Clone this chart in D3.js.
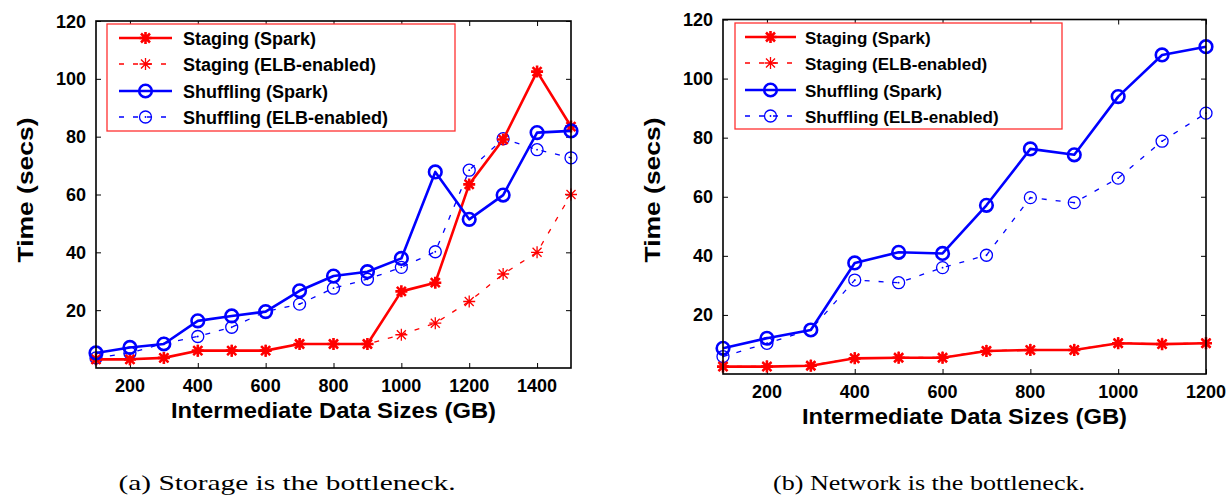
<!DOCTYPE html>
<html>
<head>
<meta charset="utf-8">
<script src="https://cdn.jsdelivr.net/npm/d3@7"></script>
<style>
  html, body { margin: 0; padding: 0; background: #fff; }
  svg { display: block; }
  text { font-family: "Liberation Sans", Arial, sans-serif; font-weight: bold; fill: #000; }
  .caption { font-family: "Liberation Serif", "Times New Roman", serif; font-weight: normal; }
</style>
</head>
<body>
<svg id="fig" width="1230" height="495"></svg>
<script>
// ---- Panel (a): storage-bound workload ----
const sizesA = [100, 200, 300, 400, 500, 600, 700, 800, 900, 1000, 1100, 1200, 1300, 1400, 1500];
const stagingSparkA   = [3, 3, 3.5, 6, 6, 6, 8.3, 8.3, 8.3, 26.5, 29.5, 63.5, 79, 102.5, 83.5];
const stagingElbA     = [3, 3, 3.5, 6, 6, 6, 8.3, 8.3, 8.3, 11.5, 15.5, 23, 32.5, 40, 60];
const shufflingSparkA = [5.2, 7.1, 8.3, 16.3, 18, 19.5, 26.7, 31.8, 33.3, 37.9, 67.8, 51.4, 59.8, 81.4, 82];
const shufflingElbA   = [3.5, 5.2, 8.5, 10.9, 14.1, 19.5, 22.1, 27.6, 30.7, 34.8, 40.2, 68.4, 79.3, 75.5, 72.7];
const xTicksA = [200, 400, 600, 800, 1000, 1200, 1400];

// ---- Panel (b): network-bound workload ----
const sizesB = [100, 200, 300, 400, 500, 600, 700, 800, 900, 1000, 1100, 1200];
const stagingSparkB   = [2.5, 2.5, 2.8, 5.3, 5.5, 5.5, 7.8, 8.1, 8.1, 10.4, 10.1, 10.4];
const stagingElbB     = [2.6, 2.6, 2.9, 5.4, 5.6, 5.6, 7.9, 8.2, 8.2, 10.5, 10.2, 10.5];
const shufflingSparkB = [8.7, 12.1, 14.9, 37.6, 41.2, 40.8, 57.1, 76.2, 74.2, 93.9, 108, 110.8];
const shufflingElbB   = [5.9, 10.4, 15, 31.8, 30.9, 36, 40.2, 59.7, 58, 66.3, 78.8, 88.3];
const xTicksB = [200, 400, 600, 800, 1000, 1200];

const yTicks = [20, 40, 60, 80, 100, 120];
const seriesNames = ["Staging (Spark)", "Staging (ELB-enabled)", "Shuffling (Spark)", "Shuffling (ELB-enabled)"];
const captions = ["(a) Storage is the bottleneck.", "(b) Network is the bottleneck."];
const xTitle = "Intermediate Data Sizes (GB)";
const yTitle = "Time (secs)";

const RED = "#ff0000", BLUE = "#0000ff";
const svg = d3.select("#fig");

// line/marker style per series
const styles = [
  { color: RED,  width: 2.6, dash: null,  marker: "star" },
  { color: RED,  width: 1.3, dash: "5,9", marker: "star" },
  { color: BLUE, width: 2.6, dash: null,  marker: "circle" },
  { color: BLUE, width: 1.3, dash: "5,9", marker: "circle" }
];

function drawMarker(g, x, y, st) {
  if (st.marker === "star") {
    const s = 6;
    const d = `M${x - s},${y}L${x + s},${y}M${x},${y - s}L${x},${y + s}` +
              `M${x - s * 0.75},${y - s * 0.75}L${x + s * 0.75},${y + s * 0.75}` +
              `M${x - s * 0.75},${y + s * 0.75}L${x + s * 0.75},${y - s * 0.75}`;
    g.append("path").attr("d", d).attr("stroke", st.color)
      .attr("stroke-width", st.width).attr("fill", "none");
  } else {
    g.append("circle").attr("cx", x).attr("cy", y).attr("r", st.dash ? 6 : 6.3)
      .attr("fill", "none").attr("stroke", st.color).attr("stroke-width", st.width);
    if (st.dash) {
      g.append("circle").attr("cx", x).attr("cy", y).attr("r", 0.9).attr("fill", st.color);
    }
  }
}

function drawPanel(p) {
  const x = d3.scaleLinear().domain([p.sizes[0], p.sizes[p.sizes.length - 1]]).range([p.left, p.right]);
  const y = d3.scaleLinear().domain([0, 120]).range([p.bottom, p.top]);
  const g = svg.append("g");
  const tl = 5;

  // ticks on all four sides, pointing inward
  const axB = d3.axisBottom(x).tickValues(p.xTicks).tickSize(-tl).tickFormat("");
  const axT = d3.axisTop(x).tickValues(p.xTicks).tickSize(-tl).tickFormat("");
  const axL = d3.axisLeft(y).tickValues(yTicks).tickSize(-tl).tickFormat("");
  const axR = d3.axisRight(y).tickValues(yTicks).tickSize(-tl).tickFormat("");
  [[axB, `translate(0,${p.bottom})`], [axT, `translate(0,${p.top})`],
   [axL, `translate(${p.left},0)`], [axR, `translate(${p.right},0)`]].forEach(([ax, tr]) => {
    const a = g.append("g").attr("transform", tr).call(ax);
    a.select(".domain").remove();
    a.selectAll("line").attr("stroke", "#000").attr("stroke-width", 1);
  });

  // tick labels
  g.selectAll(".xl").data(p.xTicks).join("text")
    .attr("x", d => x(d)).attr("y", p.bottom + 24)
    .attr("text-anchor", "middle").attr("font-size", 18).text(d => d);
  g.selectAll(".yl").data(yTicks).join("text")
    .attr("x", p.left - 10).attr("y", d => y(d) + 6.5)
    .attr("text-anchor", "end").attr("font-size", 18).text(d => d);

  // axis titles
  g.append("text").attr("x", (p.left + p.right) / 2 + p.xTitleShift).attr("y", p.bottom + 50)
    .attr("text-anchor", "middle").attr("font-size", 22)
    .attr("textLength", 325).attr("lengthAdjust", "spacingAndGlyphs").text(xTitle);
  g.append("text")
    .attr("transform", `translate(${p.yTitleX},${p.yTitleY}) rotate(-90)`)
    .attr("text-anchor", "middle").attr("font-size", 22)
    .attr("textLength", 145).attr("lengthAdjust", "spacingAndGlyphs").text(yTitle);

  // series lines and markers
  const line = d3.line().x(d => x(d[0])).y(d => y(d[1]));
  const draw = [1, 3, 0, 2];
  draw.forEach(i => {
    const st = styles[i];
    const pts = p.sizes.map((s, k) => [s, p.series[i][k]]);
    g.append("path").datum(pts).attr("d", line).attr("fill", "none")
      .attr("stroke", st.color).attr("stroke-width", st.width)
      .attr("stroke-dasharray", st.dash).attr("stroke-linejoin", "round");
    const mg = g.append("g");
    pts.forEach(d => drawMarker(mg, x(d[0]), y(d[1]), st));
  });

  // plot frame
  g.append("rect").attr("x", p.left).attr("y", p.top)
    .attr("width", p.right - p.left).attr("height", p.bottom - p.top)
    .attr("fill", "none").attr("stroke", "#000").attr("stroke-width", 1.6);

  // legend
  const L = p.legend;
  g.append("rect").attr("x", L.x0).attr("y", L.y0)
    .attr("width", L.x1 - L.x0).attr("height", L.y1 - L.y0)
    .attr("fill", "#fff").attr("stroke", "#ff3030").attr("stroke-width", 1.3);
  seriesNames.forEach((name, i) => {
    const st = styles[i];
    const ry = L.rows[i];
    g.append("line").attr("x1", L.lx0).attr("x2", L.lx1).attr("y1", ry).attr("y2", ry)
      .attr("stroke", st.color).attr("stroke-width", st.width).attr("stroke-dasharray", st.dash);
    drawMarker(g, (L.lx0 + L.lx1) / 2, ry, st);
    g.append("text").attr("x", L.tx).attr("y", ry + 6.5).attr("font-size", L.fs)
      .text(name);
  });

  // caption
  svg.append("text").attr("class", "caption").attr("x", p.capX).attr("y", 490)
    .attr("text-anchor", "middle").attr("font-size", 22)
    .attr("textLength", p.capW).attr("lengthAdjust", "spacingAndGlyphs").text(p.caption);
}

drawPanel({
  sizes: sizesA, xTicks: xTicksA,
  series: [stagingSparkA, stagingElbA, shufflingSparkA, shufflingElbA],
  left: 96, right: 571, top: 21, bottom: 368,
  xTitleShift: 0, yTitleX: 33, yTitleY: 190,
  legend: { x0: 107, y0: 24, x1: 455, y1: 131, rows: [38, 64, 91, 117], lx0: 119, lx1: 172, tx: 183, fs: 18 },
  caption: captions[0], capX: 287, capW: 337
});

drawPanel({
  sizes: sizesB, xTicks: xTicksB,
  series: [stagingSparkB, stagingElbB, shufflingSparkB, shufflingElbB],
  left: 723, right: 1206, top: 19.5, bottom: 374,
  xTitleShift: 0, yTitleX: 660, yTitleY: 190,
  legend: { x0: 735, y0: 23, x1: 1062, y1: 129, rows: [37, 63, 90, 116], lx0: 745, lx1: 796, tx: 805, fs: 17 },
  caption: captions[1], capX: 929, capW: 312
});
</script>
</body>
</html>
